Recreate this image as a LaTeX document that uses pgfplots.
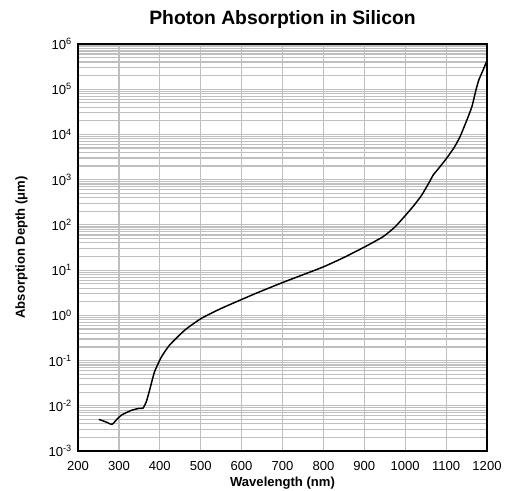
\documentclass[border=0pt]{standalone}
\usepackage{fontspec}
\setmainfont{Liberation Sans}
\usepackage{pgfplots}
\pgfplotsset{compat=1.18}

\begin{document}
\begin{tikzpicture}
\begin{axis}[
  scale only axis,
  width=306.75pt,
  height=305.25pt,
  ymode=log,
  xmin=200, xmax=1200,
  ymin=1e-3, ymax=1e6,
  xtick={200,300,...,1200},
  xticklabels={200,300,400,500,600,700,800,900,1000,1100,1200},
  ytick={1e-3,1e-2,1e-1,1e0,1e1,1e2,1e3,1e4,1e5,1e6},
  yticklabels={10\textsuperscript{-3},10\textsuperscript{-2},10\textsuperscript{-1},10\textsuperscript{0},10\textsuperscript{1},10\textsuperscript{2},10\textsuperscript{3},10\textsuperscript{4},10\textsuperscript{5},10\textsuperscript{6}},
  xmajorgrids, ymajorgrids, yminorgrids,
  major grid style={gray!50, line width=0.9pt},
  minor grid style={gray!50, line width=0.9pt},
  major tick length=0pt,
  minor tick length=0pt,
  axis line style={black, line width=1.1pt},
  tick label style={font=\fontsize{9.8}{11}\selectfont},
  xticklabel style={yshift=-4pt},
  yticklabel style={xshift=-1pt},
  title={\bfseries\fontsize{14.5}{17}\selectfont Photon Absorption in Silicon},
  title style={yshift=2pt},
  xlabel={\bfseries Wavelength (nm)},
  ylabel={\bfseries Absorption Depth (μm)},
  label style={font=\fontsize{9.8}{11}\selectfont},
  xlabel style={yshift=2pt},
  ylabel style={yshift=9pt},
]
\coordinate (ll) at (rel axis cs:0,0);
\addplot[black, line width=1.1pt, smooth, tension=0.35] coordinates {
  (251,5.0e-3) (268,4.4e-3) (283,3.9e-3) (295,5.0e-3) (306,6.2e-3)
  (330,7.9e-3) (350,8.8e-3) (359,8.9e-3) (367,1.23e-2) (375,2.2e-2)
  (387,5.6e-2) (404,0.12) (424,0.22) (461,0.47) (501,0.85)
  (550,1.42) (603,2.3) (640,3.2) (700,5.3) (750,7.9)
  (800,11.8) (850,19) (902,33) (946,55) (975,90)
  (1000,160) (1020,260) (1040,450) (1061,950) (1068,1250)
  (1080,1700) (1101,2950) (1120,5200) (1134,8900) (1150,2e4)
  (1163,4.1e4) (1173,9.6e4) (1180,1.6e5) (1190,2.6e5) (1200,4.3e5)
};
\end{axis}
\pgfresetboundingbox
\path (ll) ++(-58.5pt,-30pt) rectangle ++(381.75pt,368.25pt);
\end{tikzpicture}
\end{document}
